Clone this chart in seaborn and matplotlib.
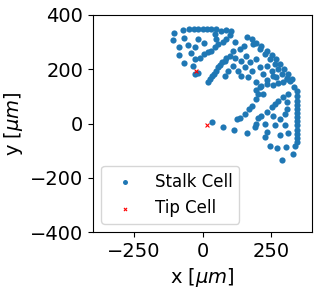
"""Stalk and tip cell positions (x/y in micrometres)."""

import matplotlib
matplotlib.use("Agg")
import matplotlib.pyplot as plt
import seaborn as sns

# Stalk cell positions, grouped by region
stalk_x = [
    # upper-left triangle
    -105, -72, -109, -48, -32, -16, 0, 16, 32, 48, 47, 69, 87, 103,
    -69, -87, -54, -29, -17, 7, 50, 87, 75, 56, 44, 32, 19,
    -87, -41, -11, 7, -29, -66, -36, -17, -28,
    # diagonal band
    19, 26, 34, 41, 50, 56, 62, 72, 81, 87, 99, 111,
    # fan: outer arc
    163, 179, 197, 215, 234, 252, 268, 283, 297, 313, 326,
    # fan: inner arc
    185, 209, 228, 246, 264, 276, 289, 307,
    # fan: bottom row
    197, 234, 270, 307,
    # fan interior
    136, 117, 142, 160, 172, 154, 197, 209, 179, 234, 221, 252, 258, 142,
    166, 111, 93, 81, 130, 150, 120, 100,
    # lower-right cluster
    215, 234, 258, 276, 295, 319, 209, 197,
    203, 197, 179, 170, 154, 136, 126, 221,
    313, 295, 276, 264, 252, 234, 215, 203, 194, 191,
    344, 344, 344, 344, 344, 344, 344, 344, 344, 344, 344, 344, 344, 335,
    307, 307, 301, 283, 258, 228, 264, 301, 234, 283, 313, 228,
    246, 273, 305, 338, 329, 292,
    # tail toward the second tip cell
    36, 75, 114, 163,
]
stalk_y = [
    335, 344, 308, 347, 347, 347, 347, 347, 347, 347, 329, 339, 344, 339,
    315, 283, 289, 280, 311, 298, 311, 313, 301, 292, 280, 268, 262,
    252, 258, 243, 256, 237, 223, 210, 186, 184,
    152, 164, 174, 182, 194, 207, 215, 225, 231, 240, 250, 268,
    320, 311, 298, 284, 268, 252, 237, 219, 201, 182, 164,
    292, 274, 256, 237, 219, 201, 182, 164,
    152, 161, 170, 166,
    274, 243, 231, 250, 225, 207, 237, 207, 194, 213, 182, 194, 176, 176,
    170, 213, 194, 176, 194, 285, 300, 325,
    139, 146, 143, 148, 152, 158, 133, 124,
    109, 91, 66, 54, 36, 19, 17, 109,
    109, 99, 84, 72, 60, 41, 29, 21, -1, -14,
    121, 103, 84, 70, 54, 38, 23, 8, -7, -23, -38, -52, -69, 135,
    78, 54, 36, 17, 29, -1, -7, -7, -32, -44, -34, -50,
    -81, -91, -87, -81, -111, -133,
    5, -11, -23, -34,
]

# Tip cell positions
tip_x = [-23, 15]
tip_y = [192, -4]

plt.rcParams["font.size"] = 14

fig = plt.figure(figsize=(3.21, 2.92), dpi=100)
ax = fig.add_axes([0.29, 0.205, 0.682, 0.744])

sns.scatterplot(x=stalk_x, y=stalk_y, color="#1f77b4", marker="o", s=20,
                linewidth=0, label="Stalk Cell", ax=ax)
sns.scatterplot(x=tip_x, y=tip_y, color="red", marker="x", s=8,
                linewidth=0.8, label="Tip Cell", ax=ax)

ax.set_xlim(-400, 400)
ax.set_ylim(-400, 400)
ax.set_xticks([-250, 0, 250])
ax.set_yticks([-400, -200, 0, 200, 400])
ax.set_xlabel(r"x [$\mu m$]")
ax.set_ylabel(r"y [$\mu m$]")
ax.legend(loc="lower left", fontsize=12, markerscale=0.8)

fig.savefig("out.png", dpi=100)
